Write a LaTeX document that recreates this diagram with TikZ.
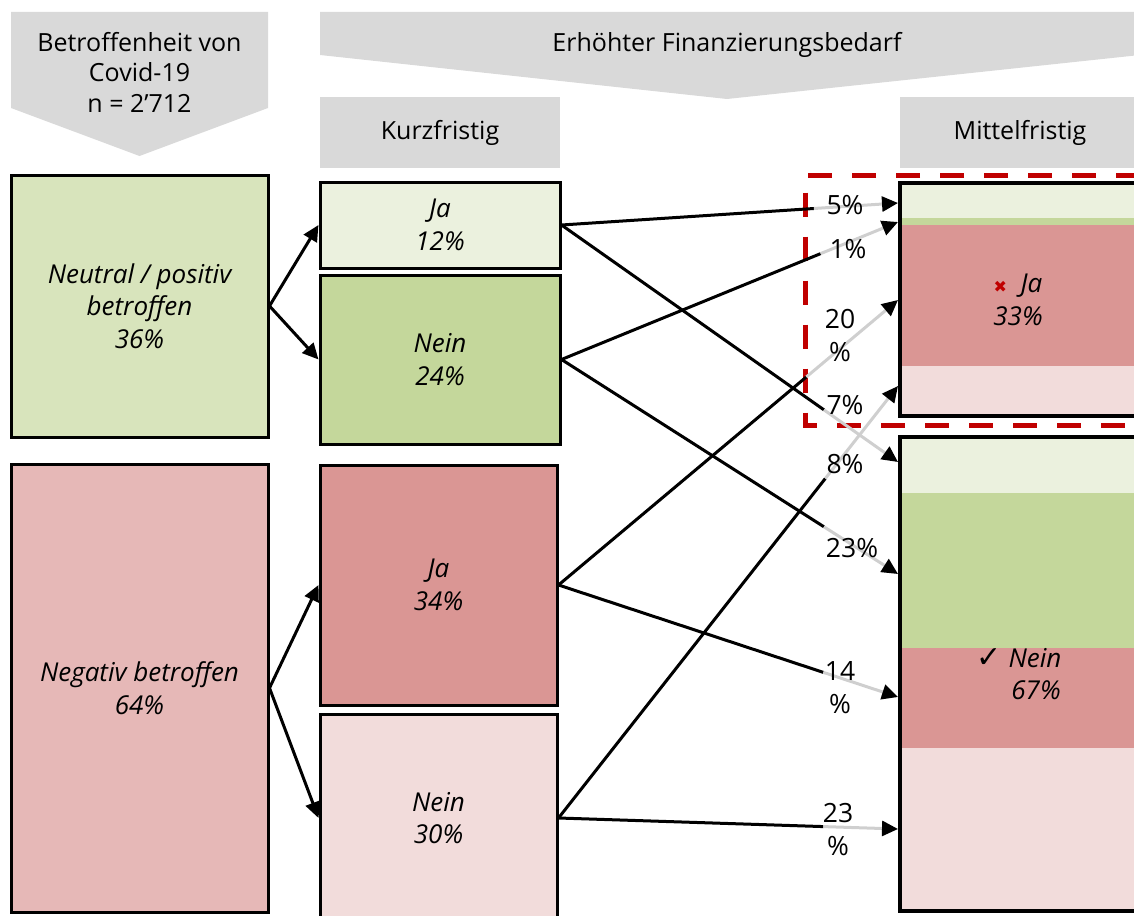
\documentclass[tikz,border=0pt]{standalone}
\usepackage{fontspec}
\setmainfont{Open Sans}
\newfontfamily\symfont{DejaVu Sans}
\usetikzlibrary{arrows.meta,calc}
\definecolor{hdrgray}{HTML}{D9D9D9}
\definecolor{lgreen}{HTML}{EBF1DE}
\definecolor{neucol}{HTML}{D8E4BC}
\definecolor{gcol}{HTML}{C4D79B}
\definecolor{negcol}{HTML}{E6B8B7}
\definecolor{rcol}{HTML}{DA9694}
\definecolor{pcol}{HTML}{F2DCDB}
\definecolor{dred}{HTML}{C00000}
\definecolor{fadegray}{HTML}{CFCFCF}
\newcommand{\hdrfont}{\fontsize{25}{30.5}\selectfont}
\newcommand{\boxfont}{\fontsize{26}{32.5}\selectfont\itshape}
\newcommand{\lblfont}{\fontsize{26.5}{33}\selectfont}
\tikzset{
  hdrtext/.style={align=center, font=\hdrfont, inner sep=0pt},
  hdrbox/.style={fill=hdrgray, align=center, font=\hdrfont, inner sep=0pt},
  box/.style={draw=black, line width=3pt, inner sep=0pt, align=center, font=\boxfont},
  rbox/.style={draw=black, line width=4pt, inner sep=0pt},
  rtext/.style={align=center, font=\boxfont, inner sep=0pt},
  lbl/.style={align=center, font=\lblfont, inner sep=0pt},
  conna/.style={line width=3pt, -{Triangle[length=16pt,width=15pt]}},
  connb/.style={line width=3pt, black},
  connf/.style={line width=3pt, draw=fadegray, -{Triangle[length=16pt,width=15pt,color=black]}},
  redbox/.style={draw=dred, line width=5pt, dash pattern=on 24pt off 20pt}
}
\begin{document}
\begin{tikzpicture}[x=1pt,y=-1pt]
\useasboundingbox (0,0) rectangle (1134,915);
\clip (0,0) rectangle (1134,915);

% headers
\fill[hdrgray] (11,12) -- (268,12) -- (268,108) -- (139.5,156) -- (11,108) -- cycle;
\node[hdrtext] (hbet) at (139.5,72) {Betroffenheit von\\Covid-19\\n = 2’712};
\fill[hdrgray] (320,12) -- (1140,12) -- (1140,55) -- (727,99) -- (320,55) -- cycle;
\node[hdrtext] (herh) at (727,45) {Erhöhter Finanzierungsbedarf};
\node[hdrbox, minimum width=240pt, minimum height=71pt] (hkurz) at (440,132.5) {Kurzfristig};
\node[hdrbox, minimum width=240pt, minimum height=71pt] (hmit) at (1020,132.5) {Mittelfristig};

% left column
\node[box, fill=neucol, minimum width=257pt, minimum height=262pt] (neu) at (139.5,306) {Neutral / positiv\\betroffen\\36\%};
\node[box, fill=negcol, minimum width=257pt, minimum height=448pt] (neg) at (139.5,688) {Negativ betroffen\\64\%};

% middle column
\node[box, fill=lgreen, minimum width=240pt, minimum height=86pt] (ja1) at (440,225) {Ja\\12\%};
\node[box, fill=gcol, minimum width=240pt, minimum height=169pt] (nein1) at (440,359.5) {Nein\\24\%};
\node[box, fill=rcol, minimum width=237pt, minimum height=240pt] (ja2) at (438.5,585) {Ja\\34\%};
\node[box, fill=pcol, minimum width=237pt, minimum height=208pt] (nein2) at (438.5,818) {Nein\\30\%};

% right column bands
\fill[lgreen] (900,183) rectangle (1136,218);
\fill[gcol] (900,218) rectangle (1136,225);
\fill[rcol] (900,225) rectangle (1136,366);
\fill[pcol] (900,366) rectangle (1136,415.5);
\fill[lgreen] (900,437) rectangle (1136,493);
\fill[gcol] (900,493) rectangle (1136,648);
\fill[rcol] (900,648) rectangle (1136,748);
\fill[pcol] (900,748) rectangle (1136,911);
\node[rbox, minimum width=235.5pt, minimum height=232.5pt] (mja) at (1017.75,299.25) {};
\node[rbox, minimum width=235.5pt, minimum height=474pt] (mnein) at (1017.75,674) {};
\node[rtext] (mjatxt) at (1018,300) {{\symfont\upshape\fontsize{16}{16}\selectfont\textcolor{dred}{✖}}~~Ja\\33\%};
\node[rtext] (mneintxt) at (1019,674) {{\symfont\upshape\fontsize{30}{30}\selectfont ✓}~Nein\\\hspace*{34pt}67\%};

% red dashed box
\draw[redbox] (1140,175) -- (805.5,175) -- (805.5,425) -- (1140,425);

% left connectors
\draw[conna] (neu.east) -- (ja1.west);
\draw[conna] (neu.east) -- (nein1.west);
\draw[conna] (neg.east) -- (ja2.west);
\draw[conna] (neg.east) -- (nein2.west);

% target coordinates
\coordinate (t5) at (898,203);
\coordinate (t1) at (898,222);
\coordinate (t20) at (898,300);
\coordinate (t8) at (898,386);
\coordinate (t7) at (898,462);
\coordinate (t23a) at (898,574);
\coordinate (t14) at (898,697);
\coordinate (t23b) at (898,829);

% right connectors: black part then faded part
\draw[connb] (ja1.east) -- ($(ja1.east)!0.75!(t5)$) coordinate (s5);
\draw[connf] (s5) -- (t5);
\draw[connb] (nein1.east) -- ($(nein1.east)!0.77!(t1)$) coordinate (s1);
\draw[connf] (s1) -- (t1);
\draw[connb] (ja2.east) -- ($(ja2.east)!0.73!(t20)$) coordinate (s20);
\draw[connf] (s20) -- (t20);
\draw[connb] (nein2.east) -- ($(nein2.east)!0.786!(t8)$) coordinate (s8);
\draw[connf] (s8) -- (t8);
\draw[connb] (ja1.east) -- ($(ja1.east)!0.78!(t7)$) coordinate (s7);
\draw[connf] (s7) -- (t7);
\draw[connb] (nein1.east) -- ($(nein1.east)!0.78!(t23a)$) coordinate (s23a);
\draw[connf] (s23a) -- (t23a);
\draw[connb] (ja2.east) -- ($(ja2.east)!0.78!(t14)$) coordinate (s14);
\draw[connf] (s14) -- (t14);
\draw[connb] (nein2.east) -- ($(nein2.east)!0.78!(t23b)$) coordinate (s23b);
\draw[connf] (s23b) -- (t23b);

% labels
\node[lbl] (l5) at (845,205) {5\%};
\node[lbl] (l1) at (848,249) {1\%};
\node[lbl] (l20) at (840,336) {20\\\%};
\node[lbl] (l7) at (845,405) {7\%};
\node[lbl] (l8) at (845,464) {8\%};
\node[lbl] (l23a) at (852,548) {23\%};
\node[lbl] (l14) at (840,688) {14\\\%};
\node[lbl] (l23b) at (838,830) {23\\\%};
\end{tikzpicture}
\end{document}
